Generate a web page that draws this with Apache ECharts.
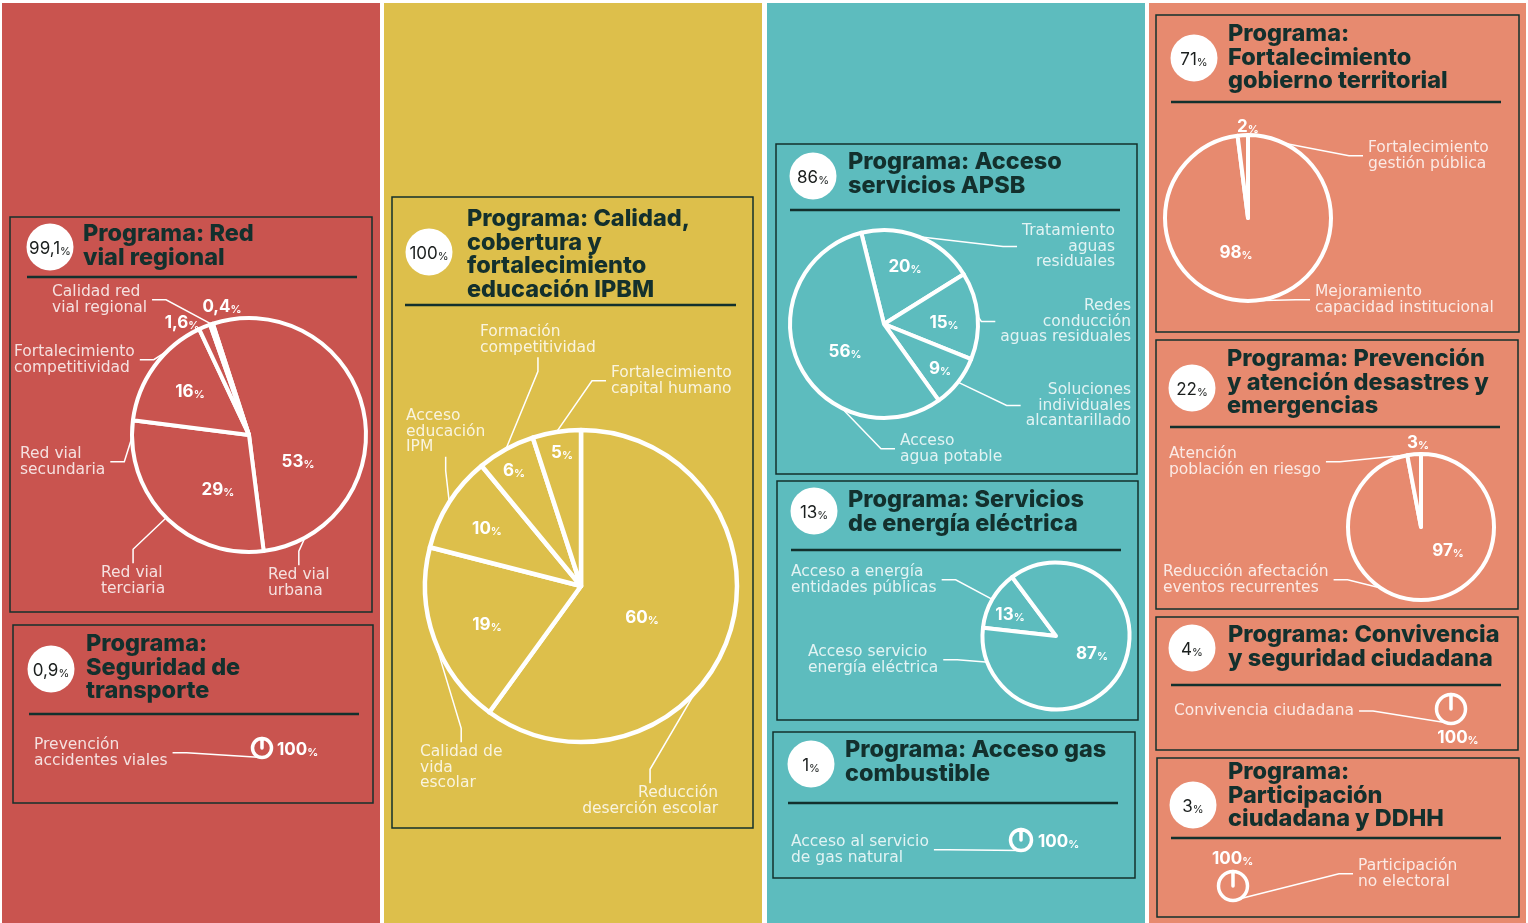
<!DOCTYPE html>
<html lang="es">
<head>
<meta charset="utf-8">
<title>Programas</title>
<script src="https://cdn.jsdelivr.net/npm/echarts@6.0.0/dist/echarts.min.js"></script>
<style>
  html, body { margin: 0; padding: 0; background: #fff; }
  #chart { width: 1528px; height: 923px; }
</style>
</head>
<body>
<div id="chart"></div>
<script>
// programas: título y participación (%)
const programTitles = [
  'Programa: Red\nvial regional',
  'Programa:\nSeguridad de\ntransporte',
  'Programa: Calidad,\ncobertura y\nfortalecimiento\neducación IPBM',
  'Programa: Acceso\nservicios APSB',
  'Programa: Servicios\nde energía eléctrica',
  'Programa: Acceso gas\ncombustible',
  'Programa:\nFortalecimiento\ngobierno territorial',
  'Programa: Prevención\ny atención desastres y\nemergencias',
  'Programa: Convivencia\ny seguridad ciudadana',
  'Programa:\nParticipación\nciudadana y DDHH'
]
const programShares = ['99,1', '0,9', '100', '86', '13', '1', '71', '22', '4', '3']

// subprogramas
const redVialNames = ['Red vial\nurbana', 'Red vial\nterciaria', 'Red vial\nsecundaria', 'Fortalecimiento\ncompetitividad', 'Calidad red\nvial regional']
const redVialValues = [53, 29, 16, 1.6, 0.4]

const transporteNames = ['Prevención\naccidentes viales']
const transporteValues = [100]

const educacionNames = ['Reducción\ndeserción escolar', 'Calidad de\nvida\nescolar', 'Acceso\neducación\nIPM', 'Formación\ncompetitividad', 'Fortalecimiento\ncapital humano']
const educacionValues = [60, 19, 10, 6, 5]

const apsbNames = ['Tratamiento\naguas\nresiduales', 'Redes\nconducción\naguas residuales', 'Soluciones\nindividuales\nalcantarillado', 'Acceso\nagua potable']
const apsbValues = [20, 15, 9, 56]

const energiaNames = ['Acceso a energía\nentidades públicas', 'Acceso servicio\nenergía eléctrica']
const energiaValues = [13, 87]

const gasNames = ['Acceso al servicio\nde gas natural']
const gasValues = [100]

const gobiernoNames = ['Mejoramiento\ncapacidad institucional', 'Fortalecimiento\ngestión pública']
const gobiernoValues = [98, 2]

const desastresNames = ['Reducción afectación\neventos recurrentes', 'Atención\npoblación en riesgo']
const desastresValues = [97, 3]

const convivenciaNames = ['Convivencia ciudadana']
const convivenciaValues = [100]

const participacionNames = ['Participación\nno electoral']
const participacionValues = [100]

const RED = '#C9544F'
const YELLOW = '#DDBF4B'
const TEAL = '#5DBCBE'
const SALMON = '#E78A6F'
const DARK = '#13302D'
const LABEL = 'rgba(255,255,255,0.82)'

const columns = [[2, 378, RED], [384, 378, YELLOW], [767, 378, TEAL], [1149, 377, SALMON]]

// cajas: rect [x1,y1,x2,y2], badge centro, título [x, baseline], regla [x1,x2,y]
const boxes = [
  { rect: [10, 217, 372, 612], badge: [50, 247], title: [83, 242], rule: [27, 357, 277] },
  { rect: [13, 625, 373, 803], badge: [51, 669], title: [86, 652], rule: [29, 359, 714] },
  { rect: [392, 197, 753, 828], badge: [429, 252], title: [467, 227], rule: [405, 736, 305] },
  { rect: [776, 144, 1137, 474], badge: [813, 176], title: [848, 170], rule: [790, 1120, 210] },
  { rect: [777, 481, 1138, 720], badge: [814, 511], title: [848, 508], rule: [791, 1121, 550] },
  { rect: [773, 732, 1135, 878], badge: [811, 764], title: [845, 758], rule: [788, 1118, 803] },
  { rect: [1156, 15, 1519, 332], badge: [1194, 58], title: [1228, 42], rule: [1171, 1501, 102] },
  { rect: [1156, 340, 1518, 609], badge: [1192, 388], title: [1227, 367], rule: [1170, 1500, 427] },
  { rect: [1156, 617, 1518, 750], badge: [1192, 648], title: [1228, 643], rule: [1171, 1501, 685] },
  { rect: [1157, 758, 1519, 917], badge: [1193, 805], title: [1228, 780], rule: [1171, 1501, 838] }
]

// tortas: centro, radio, ángulo inicial, posiciones de % y de nombres
const pies = [
  { names: redVialNames, values: redVialValues, bg: RED, center: [249, 435], r: 117, start: 108, line: 4,
    pct: [[298, 460], [218, 488], [190, 390], [182, 321], [222, 305]],
    lab: [[268, 575, 'left'], [101, 573, 'left'], [20, 454, 'left'], [14, 352, 'left'], [52, 292, 'left']] },
  { names: transporteNames, values: transporteValues, bg: RED, center: [262, 748], r: 9.5, start: 90, line: 3.5, icon: true,
    pct: [[277, 748, 'left']],
    lab: [[34, 745, 'left']] },
  { names: educacionNames, values: educacionValues, bg: YELLOW, center: [581, 586], r: 156, start: 90, line: 4.5,
    pct: [[642, 616], [487, 623], [487, 527], [514, 469], [562, 451]],
    lab: [[718, 793, 'right'], [420, 752, 'left'], [406, 416, 'left'], [480, 332, 'left'], [611, 373, 'left']] },
  { names: apsbNames, values: apsbValues, bg: TEAL, center: [884, 324], r: 94, start: 104, line: 4,
    pct: [[905, 265], [944, 321], [940, 367], [845, 350]],
    lab: [[1115, 231, 'right'], [1131, 306, 'right'], [1131, 390, 'right'], [900, 441, 'left']] },
  { names: energiaNames, values: energiaValues, bg: TEAL, center: [1056, 636], r: 73.5, start: 173.5, line: 4,
    pct: [[1010, 613], [1092, 652]],
    lab: [[791, 572, 'left'], [808, 652, 'left']] },
  { names: gasNames, values: gasValues, bg: TEAL, center: [1021, 840], r: 10.5, start: 90, line: 3.5, icon: true,
    pct: [[1038, 840, 'left']],
    lab: [[791, 842, 'left']] },
  { names: gobiernoNames, values: gobiernoValues, bg: SALMON, center: [1248, 218], r: 83, start: 90, line: 4,
    pct: [[1236, 251], [1248, 125]],
    lab: [[1315, 292, 'left'], [1368, 148, 'left']] },
  { names: desastresNames, values: desastresValues, bg: SALMON, center: [1421, 527], r: 73, start: 90, line: 4,
    pct: [[1448, 549], [1418, 441]],
    lab: [[1163, 572, 'left'], [1169, 454, 'left']] },
  { names: convivenciaNames, values: convivenciaValues, bg: SALMON, center: [1451, 709], r: 14.5, start: 90, line: 3.5, icon: true,
    pct: [[1458, 736]],
    lab: [[1174, 711, 'left']] },
  { names: participacionNames, values: participacionValues, bg: SALMON, center: [1233, 886], r: 14.5, start: 90, line: 3.5, icon: true,
    pct: [[1212, 857, 'left']],
    lab: [[1358, 866, 'left']] }
]

const pctRich = {
  n: { fontFamily: 'Inter', fontSize: 17, fontWeight: 700, color: '#fff', verticalAlign: 'bottom', lineHeight: 20 },
  p: { fontFamily: 'Inter', fontSize: 11, fontWeight: 600, color: '#fff', verticalAlign: 'bottom', lineHeight: 18 }
}
const NAME_LH = 15.5

function fmt(v) {
  return String(v).replace('.', ',')
}

function pieSeries(p) {
  const data = p.names.map((n, i) => ({ name: n, value: p.values[i] }))
  const base = {
    type: 'pie',
    silent: true,
    animation: false,
    center: p.center,
    radius: [0, p.r],
    startAngle: p.start,
    avoidLabelOverlap: false,
    minShowLabelAngle: 0,
    emphasis: { disabled: true },
    data
  }
  // el ícono 100% deja ver el radio de arriba
  if (p.icon) base.endAngle = p.start - 359.9
  return [
    Object.assign({}, base, {
      itemStyle: { color: p.bg, borderColor: '#fff', borderWidth: p.line },
      label: {
        position: 'inside',
        formatter: d => `{n|${fmt(d.value)}}{p|%}`,
        rich: pctRich
      },
      labelLine: { show: false },
      labelLayout: d => {
        const q = p.pct[d.dataIndex]
        return { x: q[0], y: q[1], align: q[2] || 'center', verticalAlign: 'middle' }
      }
    }),
    Object.assign({}, base, {
      itemStyle: { color: 'transparent', borderWidth: 0 },
      label: {
        position: 'outside',
        formatter: '{b}',
        color: LABEL,
        fontFamily: 'DejaVu Sans',
        fontSize: 15.5,
        lineHeight: NAME_LH,
        padding: [2, 5]
      },
      labelLine: { show: true, length: 6, length2: 14, lineStyle: { color: '#fff', width: 1.5 } },
      labelLayout: d => {
        const q = p.lab[d.dataIndex]
        const dx = q[2] === 'right' ? 5 : -5
        return { x: q[0] + dx, y: q[1] - NAME_LH / 2 - 2, align: q[2], verticalAlign: 'top' }
      }
    })
  ]
}

const graphics = []
columns.forEach(([x, w, color]) => {
  graphics.push({ type: 'rect', z: 0, shape: { x, y: 3, width: w, height: 920 }, style: { fill: color } })
})
boxes.forEach((b, i) => {
  graphics.push({
    type: 'rect', z: 1,
    shape: { x: b.rect[0], y: b.rect[1], width: b.rect[2] - b.rect[0], height: b.rect[3] - b.rect[1] },
    style: { fill: 'none', stroke: DARK, lineWidth: 1.5 }
  })
  graphics.push({
    type: 'line', z: 1,
    shape: { x1: b.rule[0], y1: b.rule[2], x2: b.rule[1], y2: b.rule[2] },
    style: { stroke: DARK, lineWidth: 2.5 }
  })
  graphics.push({
    type: 'circle', z: 1,
    shape: { cx: b.badge[0], cy: b.badge[1], r: 23.5 },
    style: { fill: '#fff' }
  })
  graphics.push({
    type: 'text', z: 2,
    style: {
      x: b.badge[0], y: b.badge[1],
      text: `{n|${programShares[i]}}{p|%}`,
      align: 'center', verticalAlign: 'middle',
      rich: {
        n: { fontFamily: 'Inter', fontSize: 17, fill: '#1b1f1e', color: '#1b1f1e', verticalAlign: 'bottom', lineHeight: 20 },
        p: { fontFamily: 'Inter', fontSize: 11, fill: '#1b1f1e', color: '#1b1f1e', verticalAlign: 'bottom', lineHeight: 18 }
      }
    }
  })
  graphics.push({
    type: 'text', z: 2,
    style: {
      x: b.title[0], y: b.title[1] - 20,
      text: programTitles[i],
      fill: DARK,
      font: '800 23.5px Inter',
      lineHeight: 23.7,
      verticalAlign: 'top'
    }
  })
})

const chart = echarts.init(document.getElementById('chart'))
const option = {
  backgroundColor: '#fff',
  graphic: { elements: graphics },
  series: pies.flatMap(pieSeries)
}
chart.setOption(option)
</script>
</body>
</html>
